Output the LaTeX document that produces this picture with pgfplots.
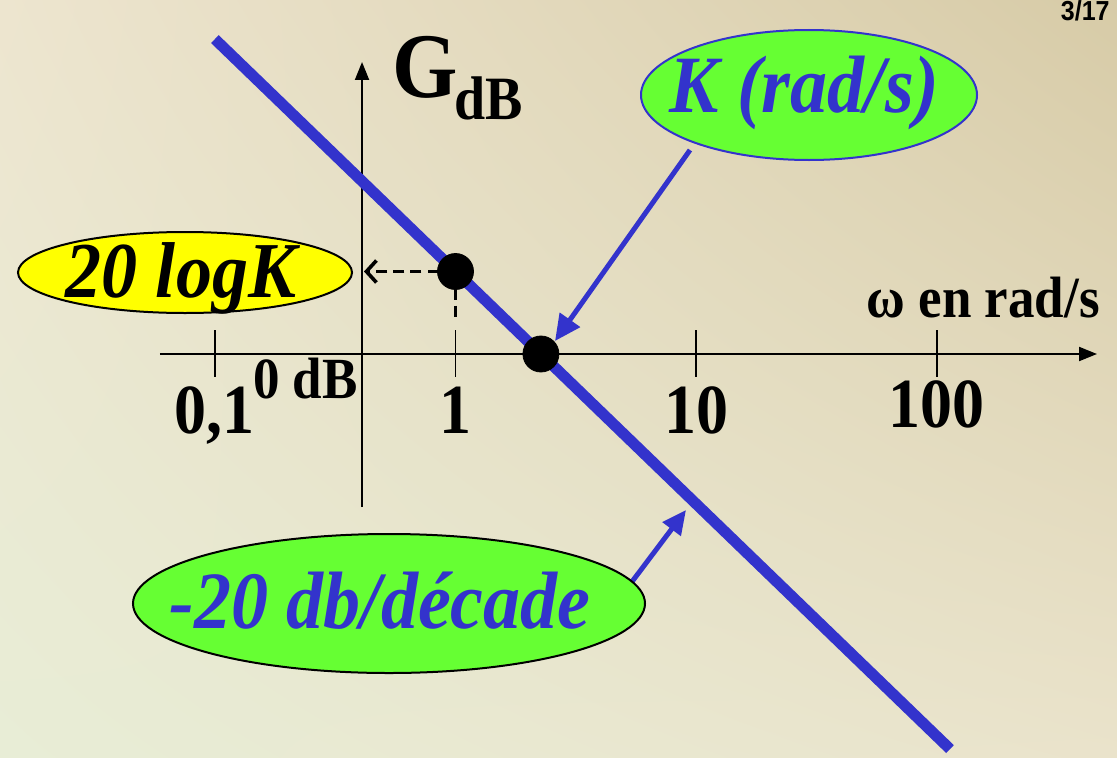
\documentclass[border=0pt]{standalone}
\usepackage{fontspec}
\setmainfont{Liberation Serif}
\newfontfamily\sansfam{Liberation Sans}
\usepackage{graphicx}
\usepackage{pgfplots}
\pgfplotsset{compat=1.18}
\usetikzlibrary{arrows.meta,shadings}

\definecolor{bgUL}{RGB}{237,229,207}
\definecolor{bgUR}{RGB}{215,203,167}
\definecolor{bgLL}{RGB}{232,237,214}
\definecolor{bgLR}{RGB}{234,227,203}
\definecolor{lineblue}{RGB}{51,51,204}
\definecolor{bubblegreen}{RGB}{102,255,51}
\definecolor{bubbleyellow}{RGB}{255,255,0}

\newcommand{\sz}[1]{\fontsize{#1}{#1}\selectfont}
% slightly tall lettering, as on the slide
\newcommand{\tall}[1]{\scalebox{1}[1.1]{#1}}

\begin{document}
\begin{tikzpicture}
% slide background
\shade[upper left=bgUL, upper right=bgUR, lower left=bgLL, lower right=bgLR]
  (0,0) rectangle (558.5pt,378.5pt);

\begin{axis}[
  at={(0,0)}, anchor=south west,
  scale only axis, width=558.5pt, height=378.5pt,
  hide axis, clip=false,
  xmode=log, xmin=0.012789, xmax=561.6,
  ymin=-34.682, ymax=30.465,
]
% axes
\draw[line width=1pt, -{Triangle[length=9pt,width=7pt]}]
  (axis cs:0.05913,0) -- (axis cs:463.8,0);
\draw[line width=1pt, -{Triangle[length=9pt,width=7pt]}]
  (axis cs:0.4088,-13.17) -- (axis cs:0.4088,25.13);
% decade ticks
\pgfplotsinvokeforeach{0.1,1,10,100}{
  \draw[line width=0.8pt] (axis cs:#1,2.05) -- (axis cs:#1,-2.0);
}
\node[anchor=base, font=\bfseries\sz{32}] at (axis cs:0.1,-6.8) {\tall{0,1}};
\node[anchor=base, font=\bfseries\sz{32}] at (axis cs:1,-6.8) {\tall{1}};
\node[anchor=base, font=\bfseries\sz{32}] at (axis cs:10,-6.8) {\tall{10}};
\node[anchor=base, font=\bfseries\sz{32}] at (axis cs:100,-6.3) {\tall{100}};

% reading of 20 log K at omega = 1
\draw[line width=1.8pt, dash pattern=on 5.5pt off 3pt,
      -{Straight Barb[length=5pt,width=11pt]}]
  (axis cs:1,7.1) -- (axis cs:0.4166,7.1);
\draw[line width=1.8pt, dash pattern=on 5.5pt off 3pt]
  (axis cs:1,7.1) -- (axis cs:1,2.75);

% asymptote G = 20 log K - 20 log omega
\addplot[lineblue, line width=5.5pt, line cap=butt] coordinates {
  (0.1,27.1) (113.6,-34.0)
};
% points (1, 20 log K) and (K, 0 dB)
\addplot[only marks, mark=*, mark size=9pt, black] coordinates {
  (1,7.1) (2.265,0)
};
\end{axis}

% annotations in slide units (1 unit = 0.5pt, y downwards)
\begin{scope}[x=0.5pt, y=-0.5pt, yshift=378.5pt]
\node[anchor=base west, font=\bfseries\sz{42}, inner sep=0pt] at (392,98) {\tall{G}};
\node[anchor=base west, font=\bfseries\sz{28}, inner sep=0pt] at (454,119) {\tall{dB}};
\node[anchor=base east, font=\bfseries\sz{26.5}, inner sep=0pt] at (1100,317) {\tall{ω en rad/s}};
\node[anchor=base east, font=\bfseries\sz{26.5}, inner sep=0pt] at (358,398) {\tall{0 dB}};
\node[anchor=base east, font=\sansfam\bfseries\sz{12.5}, inner sep=0pt] at (1110,21) {\tall{3/17}};

\draw[lineblue, line width=2.5pt, -{Triangle[length=13pt,width=12pt]}]
  (690,150) -- (555,341);
\draw[lineblue, line width=2.5pt, -{Triangle[length=12pt,width=11pt]}]
  (628,587) -- (686,510);

\draw[fill=bubbleyellow, line width=1pt] (185,272.5) ellipse [x radius=167, y radius=40.5];
\node[anchor=base, font=\bfseries\itshape\sz{36}] at (181,297) {\tall{20 logK}};

\draw[fill=bubblegreen, draw=lineblue, line width=1pt] (809,95) ellipse [x radius=168, y radius=65];
\node[anchor=base, text=lineblue, font=\bfseries\itshape\sz{37}] at (804,112) {\tall{K (rad/s)}};

\draw[fill=bubblegreen, line width=1pt] (389,603.5) ellipse [x radius=256, y radius=69.5];
\node[anchor=base, text=lineblue, font=\bfseries\itshape\sz{37}] at (380,628) {\tall{-20 db/décade}};
\end{scope}
\end{tikzpicture}
\end{document}
